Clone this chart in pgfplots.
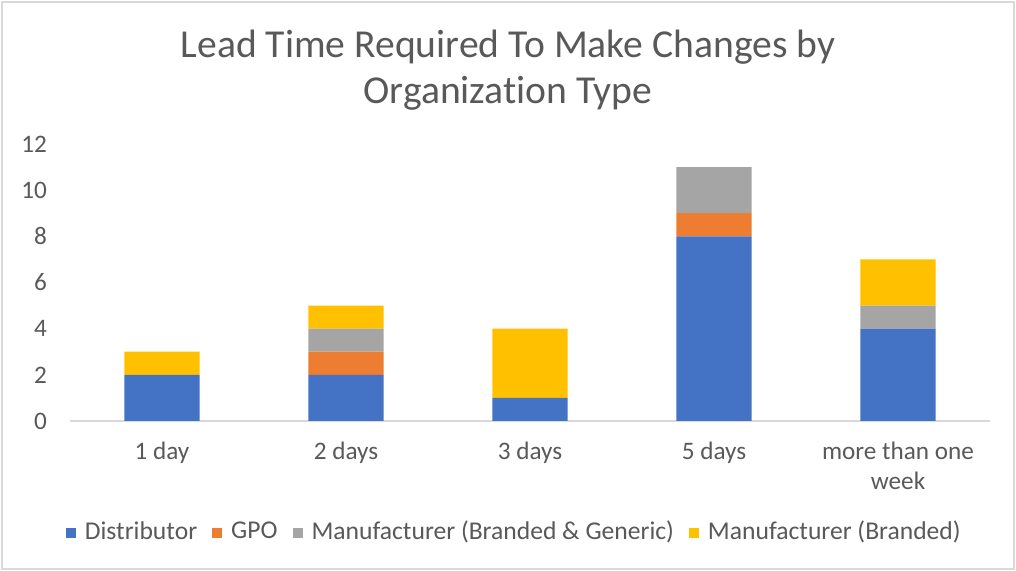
\documentclass[border=0pt]{standalone}
\usepackage{fontspec}
\setmainfont{Carlito}[Ligatures=NoCommon]
\usepackage{pgfplots}
\pgfplotsset{compat=1.18}
\definecolor{cdist}{HTML}{4472C4}
\definecolor{cgpo}{HTML}{ED7D31}
\definecolor{cmbg}{HTML}{A5A5A5}
\definecolor{cmb}{HTML}{FFC000}
\definecolor{ctext}{HTML}{595959}
\definecolor{cline}{HTML}{D9D9D9}
\begin{document}
\begin{tikzpicture}
\useasboundingbox (0,0) rectangle (508pt,285.5pt);
\draw[cline, line width=1pt] (1pt,1pt) rectangle (507pt,284.5pt);
\node[text=ctext, align=center, font=\fontsize{19.8}{23}\selectfont] at (254pt,250.5pt)
  {Lead Time Required To Make Changes by\\Organization Type};
\begin{axis}[
    at={(35pt,75pt)}, anchor=south west,
    scale only axis,
    width=460pt, height=138.5pt,
    ybar stacked,
    bar width=0.41,
    xmin=-0.5, xmax=4.5,
    ymin=0, ymax=12,
    ytick={0,2,...,12},
    xtick=data,
    xticklabels={1 day, 2 days, 3 days, 5 days, more than one\\week},
    axis y line*=left,
    y axis line style={draw=none},
    axis x line*=bottom,
    x axis line style={cline, line width=0.8pt, -},
    major tick length=0pt,
    ticklabel style={text=ctext, font=\fontsize{12.6}{15}\selectfont},
    /pgf/number format/assume math mode=true,
    xticklabel style={align=center, anchor=north, yshift=-7pt},
    yticklabel style={anchor=east, xshift=-8pt},
    clip=false,
    legend columns=4,
    legend style={draw=none, at={(0.484,-0.40)}, anchor=center,
      font=\fontsize{12.8}{15}\selectfont, text=ctext,
      /tikz/every odd column/.append style={column sep=2.5pt},
      /tikz/every even column/.append style={column sep=5.5pt}},
    legend image code/.code={\fill[#1] (0pt,-3pt) rectangle (5pt,2pt);},
]
\addplot[fill=cdist, draw=none] coordinates {(0,2) (1,2) (2,1) (3,8) (4,4)};
\addplot[fill=cgpo, draw=none] coordinates {(0,0) (1,1) (2,0) (3,1) (4,0)};
\addplot[fill=cmbg, draw=none] coordinates {(0,0) (1,1) (2,0) (3,2) (4,1)};
\addplot[fill=cmb, draw=none] coordinates {(0,1) (1,1) (2,3) (3,0) (4,2)};
\legend{Distributor, GPO, Manufacturer (Branded \& Generic), Manufacturer (Branded)}
\end{axis}
\end{tikzpicture}
\end{document}
